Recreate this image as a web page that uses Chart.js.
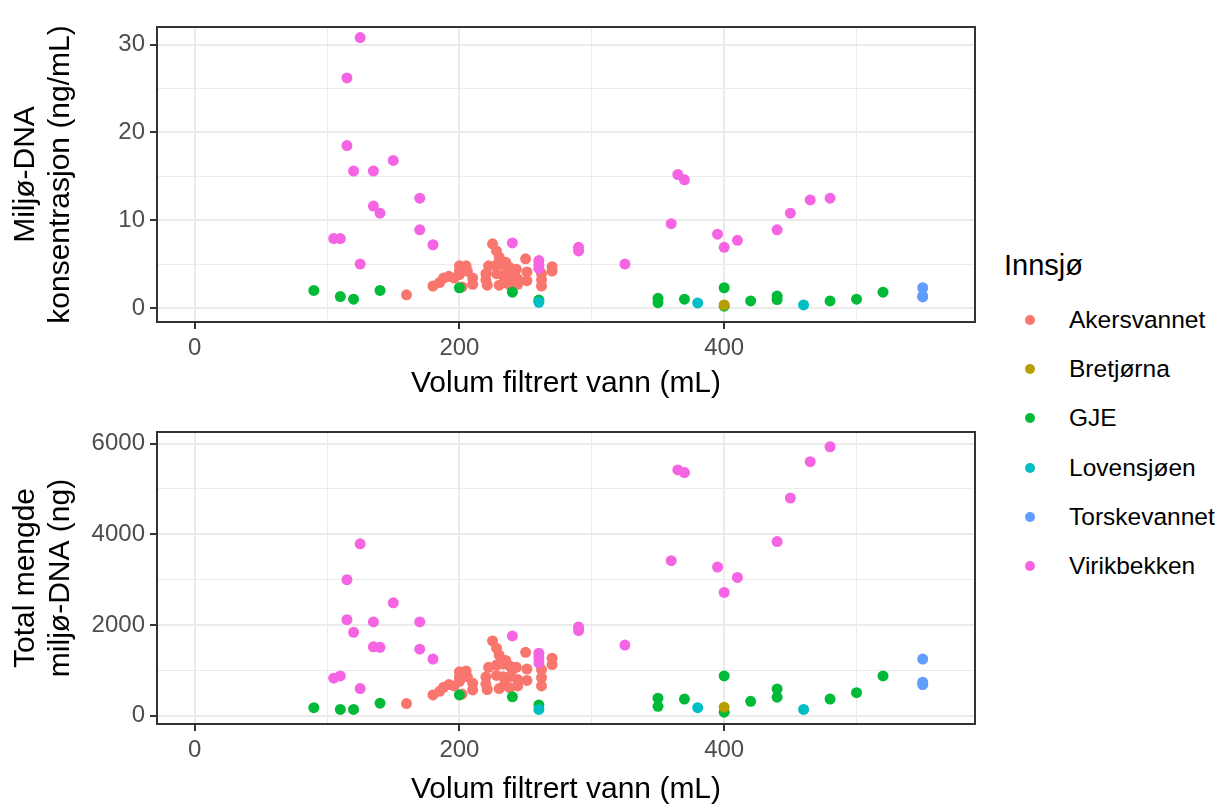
<!DOCTYPE html>
<html lang="no">
<head>
    <meta charset="UTF-8">
    <title>Miljø-DNA og volum filtrert vann</title>
    <script src="https://cdn.jsdelivr.net/npm/chart.js"></script>
    <style>
        body { margin: 0; background: #fff; font-family: "Liberation Sans", Arial, sans-serif; }
        canvas { position: absolute; left: 0; }
        #legend { position: absolute; left: 0; top: 0; }
        .leg-title { position: absolute; left: 1004px; font-size: 29px; line-height: 34px; color: #000; }
        .leg-item { position: absolute; left: 1025px; height: 30px; line-height: 30px; font-size: 24.5px; color: #000; white-space: nowrap; }
        .leg-dot { position: absolute; left: 0; top: 10px; width: 10px; height: 10px; border-radius: 50%; }
        .leg-text { position: absolute; left: 44px; top: 0; }
    </style>
</head>
<body>
    <canvas id="konsChart" width="985" height="405" style="top:0"></canvas>
    <canvas id="totalChart" width="985" height="402" style="top:405px"></canvas>
    <div id="legend"></div>
    <script>
        const FONT = '"Liberation Sans", Arial, sans-serif';

        const lakes = ['Akersvannet', 'Bretjørna', 'GJE', 'Lovensjøen', 'Torskevannet', 'Virikbekken'];
        const lakeColors = ['#F8766D', '#B79F00', '#00BA38', '#00BFC4', '#619CFF', '#F564E3'];
        // tegnerekkefølge: lavere tall havner øverst
        const drawOrder = [5, 2, 4, 1, 3, 0];

        // volum (mL), konsentrasjon (ng/mL) og total mengde (ng) per innsjø
        const akersVol = [160, 180, 185, 188, 192, 196, 200, 200, 200, 202, 205, 206, 210, 210, 220, 220, 221, 222,
            225, 228, 228, 228, 230, 230, 233, 233, 234, 235, 238, 238, 238, 240, 243, 244, 244, 250, 251, 251,
            262, 262, 262, 270, 270];
        const akersKons = [1.5, 2.5, 2.9, 3.4, 3.6, 3.4, 4.8, 4.2, 3.8, 2.4, 4.8, 4.2, 3.4, 2.7, 3.9, 3.2, 2.6, 4.8,
            7.3, 6.5, 4.9, 3.9, 5.8, 2.6, 4.9, 3.7, 2.9, 5.2, 4.6, 3.6, 2.6, 4.2, 4.4, 3.3, 2.7, 5.6, 4.1, 3.1,
            3.9, 3.2, 2.5, 4.7, 4.2];
        const akersTotal = [270, 460, 540, 630, 690, 660, 970, 850, 760, 480, 990, 860, 720, 570, 860, 700, 580, 1070,
            1650, 1490, 1120, 890, 1340, 600, 1140, 860, 680, 1220, 1100, 860, 620, 1010, 1070, 800, 660, 1400, 1030, 780,
            1020, 840, 660, 1270, 1130];

        const bretVol = [400];
        const bretKons = [0.35];
        const bretTotal = [190];

        const gjeVol = [90, 110, 120, 140, 200, 240, 260, 350, 350, 370, 400, 400, 420, 440, 440, 480, 500, 520];
        const gjeKons = [2.0, 1.3, 1.0, 2.0, 2.3, 1.8, 0.9, 1.1, 0.6, 1.0, 2.3, 0.2, 0.8, 1.35, 0.95, 0.8, 1.0, 1.8];
        const gjeTotal = [180, 140, 140, 280, 460, 420, 240, 390, 210, 370, 880, 80, 320, 590, 410, 370, 510, 880];

        const lovensVol = [260, 380, 460];
        const lovensKons = [0.65, 0.57, 0.34];
        const lovensTotal = [140, 180, 140];

        const torskVol = [550, 550, 550];
        const torskKons = [2.3, 1.35, 1.25];
        const torskTotal = [1250, 740, 690];

        const virikVol = [105, 110, 115, 115, 120, 125, 125, 135, 135, 140, 150, 170, 170, 180, 240, 260, 260, 260,
            290, 290, 325, 360, 365, 370, 395, 400, 410, 440, 450, 465, 480];
        const virikKons = [7.9, 7.9, 26.2, 18.5, 15.6, 30.8, 5.0, 15.6, 11.6, 10.8, 16.8, 12.5, 8.9, 7.2, 7.4, 5.4, 4.9, 4.5,
            6.9, 6.5, 5.0, 9.6, 15.2, 14.6, 8.4, 6.9, 7.7, 8.9, 10.8, 12.3, 12.5];
        const virikTotal = [830, 880, 3000, 2120, 1840, 3790, 600, 2070, 1520, 1510, 2490, 2070, 1470, 1250, 1760, 1380, 1280, 1170,
            1960, 1880, 1560, 3420, 5420, 5360, 3280, 2720, 3050, 3840, 4800, 5600, 5930];

        const volum = [akersVol, bretVol, gjeVol, lovensVol, torskVol, virikVol];
        const konsentrasjon = [akersKons, bretKons, gjeKons, lovensKons, torskKons, virikKons];
        const totalMengde = [akersTotal, bretTotal, gjeTotal, lovensTotal, torskTotal, virikTotal];

        // akser: hovedmerker med tekst, mellomlinjer uten
        const xTicks = [0, 200, 400];
        const xMinor = [100, 300, 500];
        const konsTicks = [0, 10, 20, 30];
        const konsMinor = [5, 15, 25];
        const totalTicks = [0, 2000, 4000, 6000];
        const totalMinor = [1000, 3000, 5000];

        const panelBorder = {
            id: 'panelBorder',
            afterDatasetsDraw(chart) {
                const { ctx, chartArea: a } = chart;
                ctx.save();
                ctx.strokeStyle = '#333333';
                ctx.lineWidth = 2;
                ctx.strokeRect(a.left, a.top, a.right - a.left, a.bottom - a.top);
                ctx.restore();
            }
        };

        function axis(major, minor, min, max, title, isX, titlePad) {
            const all = major.concat(minor).sort((a, b) => a - b);
            return {
                type: 'linear',
                min: min,
                max: max,
                afterBuildTicks: s => { s.ticks = all.map(v => ({ value: v })); },
                afterFit: s => { if (isX) s.height = 83; else s.width = 157; },
                border: { display: false },
                grid: {
                    color: '#EBEBEB',
                    lineWidth: c => (c.tick && major.includes(c.tick.value)) ? 2 : 1,
                    drawTicks: true,
                    tickLength: 7,
                    tickWidth: 2,
                    tickColor: c => (c.tick && major.includes(c.tick.value)) ? '#333333' : 'rgba(0,0,0,0)'
                },
                ticks: {
                    autoSkip: false,
                    maxRotation: 0,
                    color: '#4D4D4D',
                    padding: 5,
                    font: { family: FONT, size: 24 },
                    callback: v => major.includes(v) ? String(v) : ''
                },
                title: {
                    display: true,
                    text: title,
                    color: '#000000',
                    font: { family: FONT, size: 30, lineHeight: 1.17 },
                    padding: titlePad
                }
            };
        }

        function makePanel(id, yValues, yAxis, xTitlePad) {
            const datasets = lakes.map((name, i) => ({
                label: name,
                data: volum[i].map((v, j) => ({ x: v, y: yValues[i][j] })),
                backgroundColor: lakeColors[i],
                borderWidth: 0,
                pointRadius: 5.5,
                pointHoverRadius: 5.5,
                order: drawOrder[i]
            }));
            return new Chart(document.getElementById(id).getContext('2d'), {
                type: 'scatter',
                data: { datasets: datasets },
                options: {
                    responsive: false,
                    animation: false,
                    layout: { padding: { top: 27, right: 10, left: 0, bottom: 0 } },
                    plugins: { legend: { display: false }, tooltip: { enabled: false } },
                    scales: {
                        x: axis(xTicks, xMinor, -28.5, 589.5, 'Volum filtrert vann (mL)', true, xTitlePad),
                        y: yAxis
                    }
                },
                plugins: [panelBorder]
            });
        }

        makePanel('konsChart', konsentrasjon,
            axis(konsTicks, konsMinor, -1.6, 32.0, ['Miljø-DNA', 'konsentrasjon (ng/mL)'], false, { top: 8, bottom: 0 }),
            { top: 0, bottom: 4 });
        makePanel('totalChart', totalMengde,
            axis(totalTicks, totalMinor, -180, 6255, ['Total mengde', 'miljø-DNA (ng)'], false, { top: 8, bottom: 0 }),
            { top: 0, bottom: 0 });

        // felles forklaring til høyre
        const legend = document.getElementById('legend');
        const title = document.createElement('div');
        title.className = 'leg-title';
        title.style.top = (265 - 17) + 'px';
        title.textContent = 'Innsjø';
        legend.appendChild(title);
        lakes.forEach((name, i) => {
            const item = document.createElement('div');
            item.className = 'leg-item';
            item.style.top = (320 + i * 49.2 - 15) + 'px';
            const dot = document.createElement('span');
            dot.className = 'leg-dot';
            dot.style.background = lakeColors[i];
            const txt = document.createElement('span');
            txt.className = 'leg-text';
            txt.textContent = name;
            item.appendChild(dot);
            item.appendChild(txt);
            legend.appendChild(item);
        });
    </script>
</body>
</html>
